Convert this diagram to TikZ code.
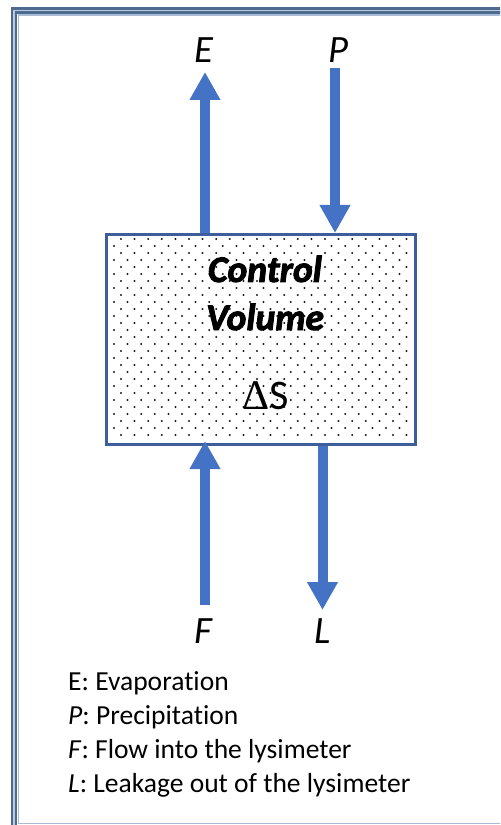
\documentclass[tikz,border=0pt]{standalone}
\usepackage{fontspec}
\setmainfont{Carlito}[Ligatures=NoCommon]
\newfontfamily\deltafont{Liberation Serif}
\newfontfamily\cvfont{Carlito}[BoldItalicFeatures={FakeBold=2.5}]
\usetikzlibrary{arrows.meta, positioning}
\definecolor{flowblue}{HTML}{4472C4}
\definecolor{boxblue}{HTML}{3D5E9B}
\definecolor{framedark}{HTML}{4F6A8F}
\definecolor{framelight}{HTML}{B9CAE2}

\begin{document}
\begin{tikzpicture}[
    % GLOBAL CFG (1 unit = 1 px of the 500x825 sheet)
    x=0.03cm, y=-0.03cm,
    % Styles
    flow/.style={% For the thick blue fluxes
        draw=flowblue,
        line width=0.3cm,
        -{Triangle[width=0.87cm, length=0.84cm]},
        },
    fluxlabel/.style={% For E, P, F, L
        font=\fontsize{33}{33}\selectfont\itshape,
        inner sep=0pt,
        anchor=base,
        },
    legend/.style={% For the key below
        font=\fontsize{23.5}{28}\selectfont,
        inner sep=0pt,
        anchor=base west,
        },
    volume/.style={% For the control volume
        draw=boxblue,
        line width=0.09cm,
        minimum width=9.24cm,
        minimum height=6.3cm,
        inner sep=0pt,
        },
    ]

    % Sheet and frame
    \path[use as bounding box, clip] (0,0) rectangle (500,825);
    \draw[framedark, line width=0.07cm, double=framelight, double distance=0.05cm]
        (14.2,10.5) rectangle (530,829);
    \draw[framelight!85!framedark, line width=0.05cm] (18.4,14.7) rectangle (530,823.5);

    % Draw the control volume
    \node [volume] (cv) at (261,339.5) {};
    \foreach \r in {0,...,28}
        \foreach \c in {0,...,21}
            \fill[black!90] ({114+7*mod(\r+1,2)+13.6*\c}, {239+7*\r}) circle (0.95pt);

    % Texts in the box
    \node [font=\fontsize{32}{41}\selectfont\cvfont\bfseries\itshape, align=center,
        inner sep=0pt, anchor=base] (cvname) at (265,330) {Control\\Volume};
    \node [font=\fontsize{36}{36}\selectfont, inner sep=0pt, anchor=base]
        (ds) at (266,409) {{\deltafont Δ}S};

    % Flux labels
    \node [fluxlabel] (E) at (204,63) {E};
    \node [fluxlabel] (P) at (338,63) {P};
    \node [fluxlabel] (F) at (203,643) {F};
    \node [fluxlabel] (L) at (323,643) {L};

    % Free ends of the fluxes
    \coordinate (Etip) at (205,72);
    \coordinate (Ptail) at (335,68);
    \coordinate (Ftail) at (205,605);
    \coordinate (Ltip) at (322.5,610);

    % Fluxes
    \draw [flow] (cv.north -| Etip) -- (Etip);
    \draw [flow] (Ptail) -- (cv.north -| Ptail);
    \draw [flow] (Ftail) -- ([yshift=0.15cm]cv.south -| Ftail);
    \draw [flow] (cv.south -| Ltip) -- (Ltip);

    % Legend
    \node [legend] (leg1) at (68,690) {E: Evaporation};
    \node [legend] (leg2) at (68,724) {\textit{P}: Precipitation};
    \node [legend] (leg3) at (68,758) {\textit{F}: Flow into the lysimeter};
    \node [legend] (leg4) at (68,792) {\textit{L}: Leakage out of the lysimeter};

\end{tikzpicture}
\end{document}
